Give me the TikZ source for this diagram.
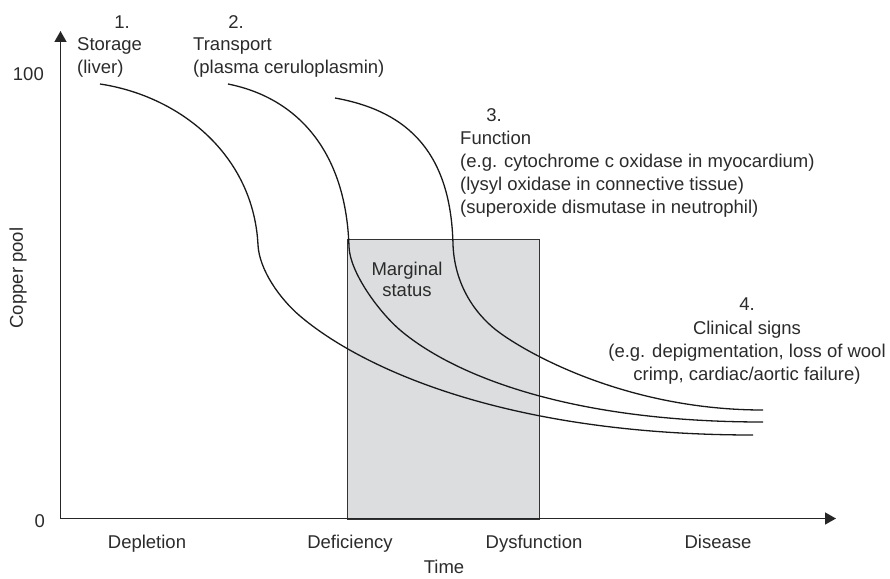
\documentclass[tikz,border=0pt]{standalone}
\usepackage{fontspec}
\setmainfont{Liberation Sans}
\usetikzlibrary{arrows.meta}
\definecolor{txt}{HTML}{2B2B2B}
\definecolor{boxfill}{HTML}{DCDDDF}
\begin{document}
\begin{tikzpicture}[x=1pt,y=-1pt,
  lbl/.style={inner sep=0pt,text=txt,font=\fontsize{18.5}{23}\selectfont},
  curve/.style={draw=black!90,line width=1.3pt},
  axis/.style={draw=black!85,line width=1.5pt,-{Triangle[length=11pt,width=12pt]}},
  marg/.style={draw=black!80,line width=1.1pt,fill=boxfill}]
\useasboundingbox (0,0) rectangle (890,578);
% marginal box
\node[marg,minimum width=192pt,minimum height=280pt,inner sep=0pt,anchor=north west] (box) at (346.7,238.5) {};
% axes
\coordinate (O) at (60.5,518.5);
\coordinate (ytip) at (60.5,31);
\coordinate (xtip) at (836,518.5);
\draw[axis] (O) -- (ytip);
\draw[axis] (O) -- (xtip);
% curves
\draw[curve] (100,84) .. controls (180,96) and (253.5,155) .. (258,245)
  .. controls (259.3,270) and (280,299) .. (300,316)
  .. controls (360,367) and (503,435) .. (753,435);
\draw[curve] (228,84) .. controls (298,98) and (346.2,152) .. (349,247)
  .. controls (350,272) and (378,311) .. (400,330)
  .. controls (450,372.5) and (563,422) .. (763,422);
\draw[curve] (335,98) .. controls (400,109.7) and (451,145) .. (453,245)
  .. controls (455,290) and (480,318.6) .. (500,333)
  .. controls (535,358.2) and (633,410) .. (763,410);
% labels
\node[lbl,anchor=base] (n1) at (122,29) {1.};
\node[lbl,anchor=base west] (s1) at (77,50) {Storage};
\node[lbl,anchor=base west] (s1b) at (77,73) {(liver)};
\node[lbl,anchor=base] (n2) at (236,29) {2.};
\node[lbl,anchor=base west] (s2) at (193,50) {Transport};
\node[lbl,anchor=base west] (s2b) at (193,73) {(plasma ceruloplasmin)};
\node[lbl,anchor=base] (n3) at (494,121) {3.};
\node[lbl,anchor=base west] (s3) at (460,144) {Function};
\node[lbl,anchor=base west] (s3b) at (460,167) {(e.g. cytochrome c oxidase in myocardium)};
\node[lbl,anchor=base west] (s3c) at (460,190) {(lysyl oxidase in connective tissue)};
\node[lbl,anchor=base west] (s3d) at (460,213) {(superoxide dismutase in neutrophil)};
\node[lbl,anchor=base] (n4) at (747,310) {4.};
\node[lbl,anchor=base] (s4) at (747,334) {Clinical signs};
\node[lbl,anchor=base] (s4b) at (747,357) {(e.g. depigmentation, loss of wool};
\node[lbl,anchor=base] (s4c) at (747,380) {crimp, cardiac/aortic failure)};
\node[lbl,anchor=base] (m1) at (407,275) {Marginal};
\node[lbl,anchor=base] (m2) at (407,296) {status};
\node[lbl,anchor=base east] (y100) at (44,80) {100};
\node[lbl,anchor=base east] (y0) at (45,527) {0};
\node[lbl,rotate=90] (ylab) at (18,278) {Copper pool};
\node[lbl,anchor=base] (t1) at (147,548) {Depletion};
\node[lbl,anchor=base] (t2) at (350,548) {Deficiency};
\node[lbl,anchor=base] (t3) at (534,548) {Dysfunction};
\node[lbl,anchor=base] (t4) at (718,548) {Disease};
\node[lbl,anchor=base] (time) at (444,573) {Time};
\end{tikzpicture}
\end{document}
